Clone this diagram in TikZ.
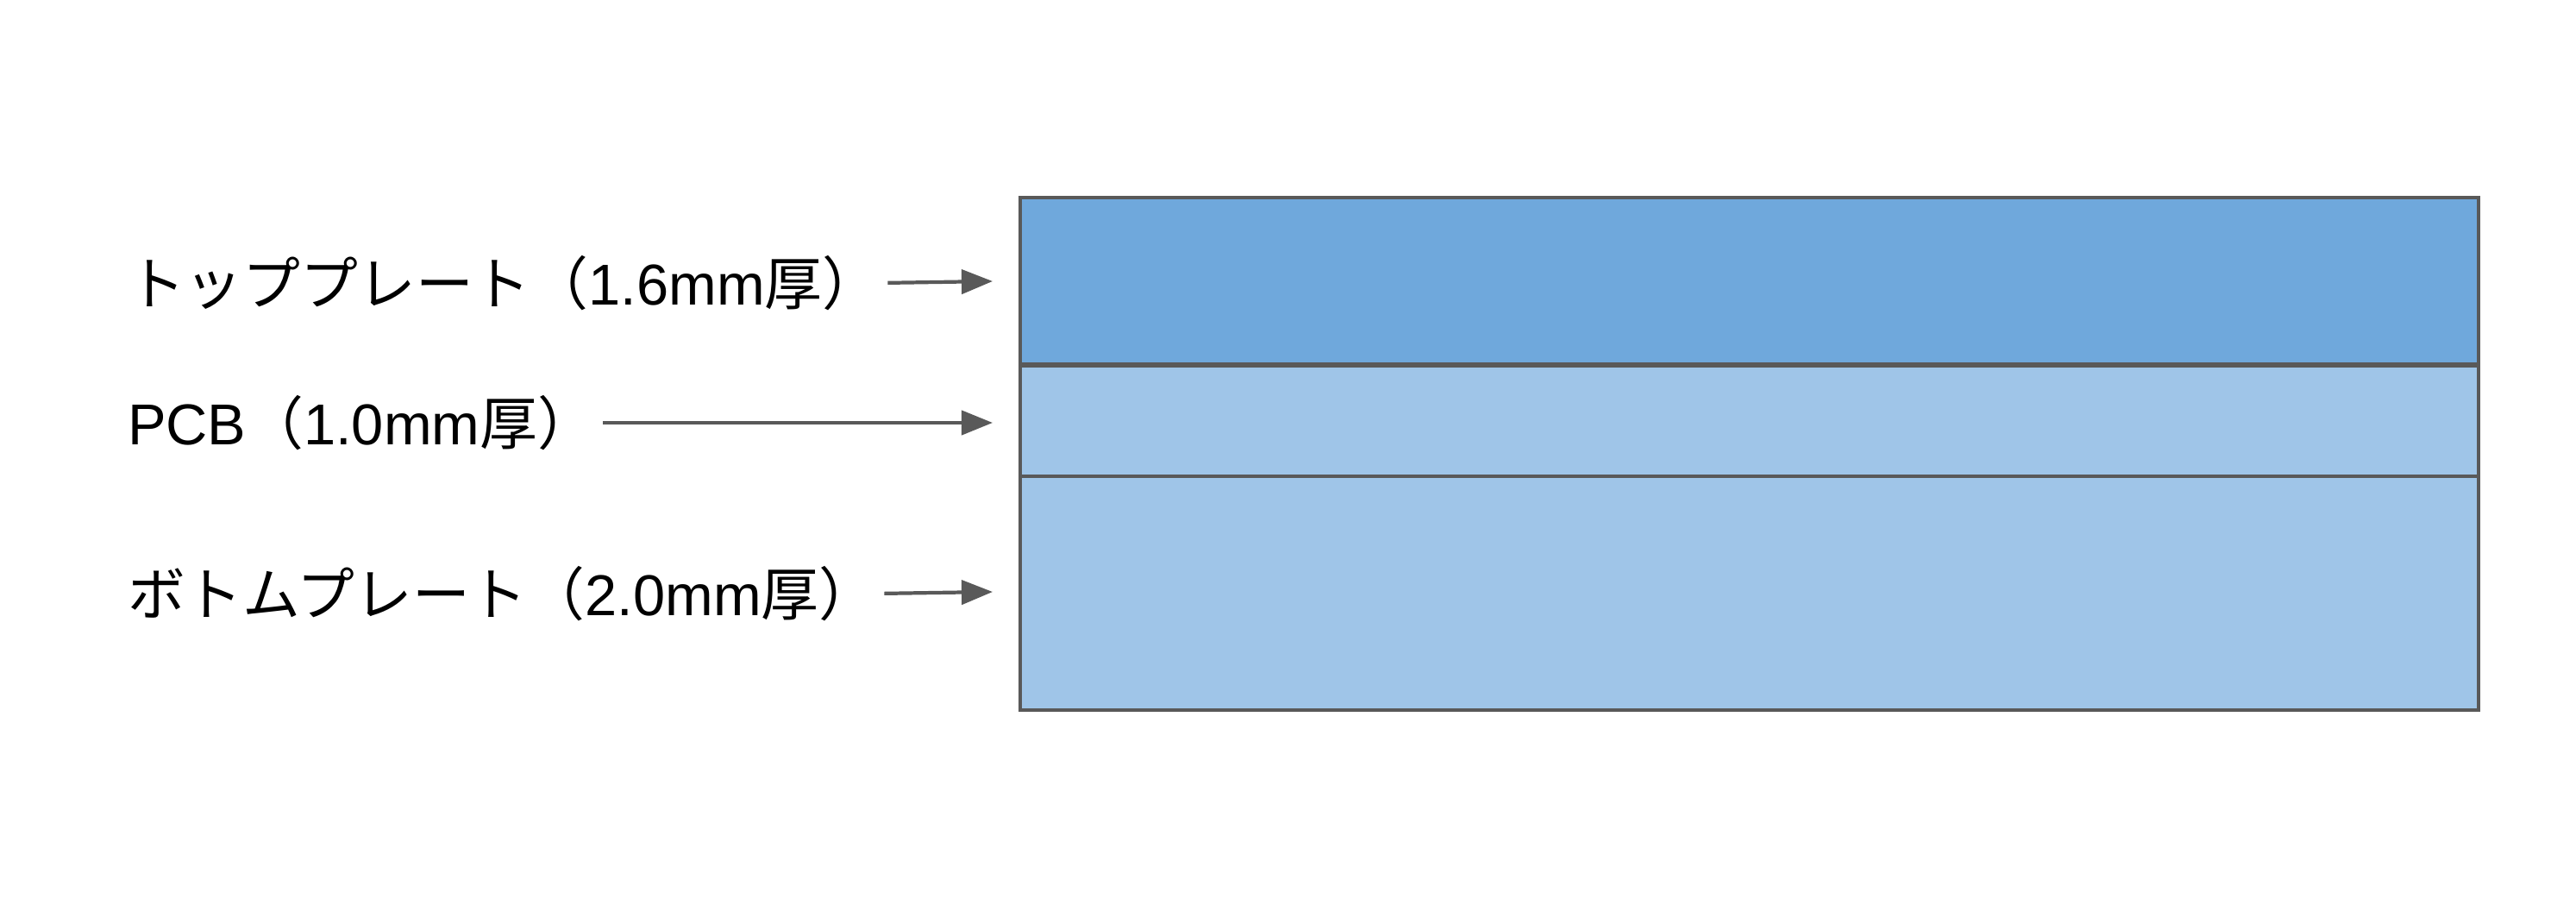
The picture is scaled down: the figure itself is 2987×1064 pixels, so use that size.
\documentclass[tikz,border=0pt]{standalone}
\usepackage{fontspec}
\setmainfont{Liberation Sans}
\newfontfamily\jp{Noto Sans CJK JP}
\usetikzlibrary{arrows.meta}
\definecolor{edge}{HTML}{595959}
\definecolor{topfill}{HTML}{6FA8DC}
\definecolor{layerfill}{HTML}{9FC5E8}
\begin{document}
\begin{tikzpicture}[x=0.01cm,y=-0.01cm,
  layer/.style={draw=edge, line width=1.1pt, inner sep=0pt, outer sep=0pt,
    minimum width=16.9cm, anchor=north west},
  lbl/.style={anchor=west, inner sep=0pt, outer sep=0pt,
    font=\fontsize{19pt}{23pt}\selectfont},
  arr/.style={draw=edge, line width=1.2pt, shorten <=0.09cm,
    -{Triangle[length=0.36cm, width=0.28cm]}}]
  \useasboundingbox (0,0) rectangle (2987,1064);

  % stacked layers
  \node[layer, fill=topfill,   minimum height=1.93cm] (topplate) at (1183,229) {};
  \node[layer, fill=layerfill, minimum height=1.28cm] (pcb)      at (1183,424) {};
  \node[layer, fill=layerfill, minimum height=2.71cm] (botplate) at (1183,552) {};

  % labels
  \node[lbl] (ltop) at (148,328) {{\jp トッププレート（}1.6mm{\jp 厚）}};
  \node[lbl] (lpcb) at (148,490) {PCB{\jp （}1.0mm{\jp 厚）}};
  \node[lbl] (lbot) at (148,688) {{\jp ボトムプレート（}2.0mm{\jp 厚）}};

  % arrow tips
  \coordinate (ttop) at (1151,326);
  \coordinate (tpcb) at (1151,490);
  \coordinate (tbot) at (1151,686);

  \draw[arr] (ltop.east) -- (ttop);
  \draw[arr] (lpcb.east) -- (tpcb);
  \draw[arr] (lbot.east) -- (tbot);
\end{tikzpicture}
\end{document}
